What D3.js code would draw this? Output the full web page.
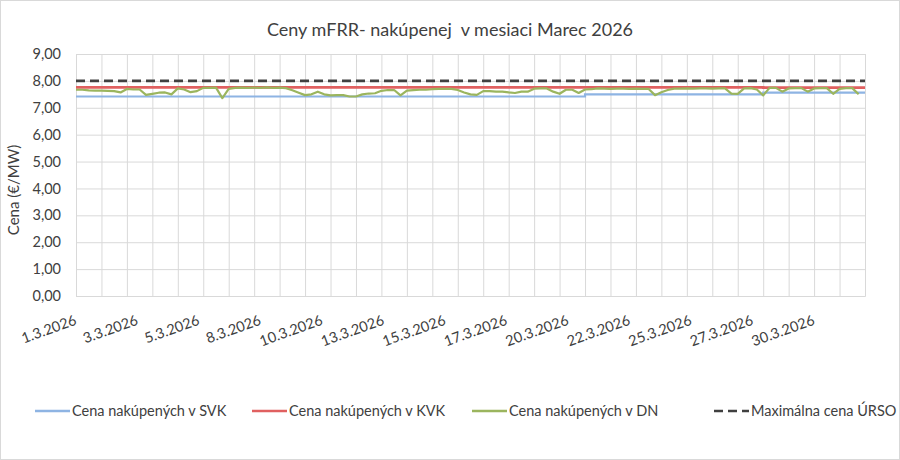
<!DOCTYPE html>
<html>
<head>
<meta charset="utf-8">
<script src="https://cdn.jsdelivr.net/npm/d3@7"></script>
<style>
  body { margin: 0; background: #fff; }
  svg text { font-family: Lato, "Noto Sans", sans-serif; fill: #404040; }
</style>
</head>
<body>
<div id="chart"></div>
<script>
// dátumy / kategórie
const startDate = new Date(2026, 2, 1, 0, 0)
const endDate = new Date(2026, 3, 1, 0, 0)
const dayCount = 31
const labelStepHours = 58
const xTickLabels = ["1.3.2026", "3.3.2026", "5.3.2026", "8.3.2026", "10.3.2026", "13.3.2026", "15.3.2026",
    "17.3.2026", "20.3.2026", "22.3.2026", "25.3.2026", "27.3.2026", "30.3.2026"]
const yTicks = [0, 1, 2, 3, 4, 5, 6, 7, 8, 9]

// denné hodnoty SVK a KVK
const svkDaily = [7.42, 7.42, 7.42, 7.42, 7.42, 7.42, 7.42, 7.42, 7.42, 7.42,
    7.42, 7.42, 7.42, 7.42, 7.42, 7.42, 7.42, 7.42, 7.42, 7.42,
    7.50, 7.50, 7.50, 7.50, 7.50, 7.50, 7.50, 7.56, 7.56, 7.56, 7.56]
const kvkDaily = [7.76, 7.76, 7.76, 7.76, 7.76, 7.76, 7.76, 7.76, 7.76, 7.76,
    7.76, 7.76, 7.76, 7.76, 7.76, 7.76, 7.76, 7.76, 7.76, 7.76,
    7.76, 7.76, 7.76, 7.76, 7.76, 7.76, 7.76, 7.75, 7.75, 7.75, 7.75]
// DN po 6 hodinách
const dnStepHours = 6
const dnValues = [7.67, 7.67, 7.65, 7.64, 7.64, 7.63, 7.62, 7.57, 7.70, 7.68,
    7.68, 7.48, 7.52, 7.56, 7.57, 7.50, 7.72, 7.68, 7.58, 7.62,
    7.74, 7.74, 7.75, 7.36, 7.70, 7.74, 7.75, 7.74, 7.75, 7.74,
    7.76, 7.74, 7.75, 7.73, 7.65, 7.56, 7.47, 7.50, 7.60, 7.50,
    7.46, 7.47, 7.47, 7.42, 7.42, 7.50, 7.53, 7.54, 7.63, 7.66,
    7.66, 7.46, 7.64, 7.66, 7.67, 7.67, 7.69, 7.70, 7.70, 7.70,
    7.66, 7.57, 7.50, 7.48, 7.62, 7.62, 7.60, 7.60, 7.57, 7.55,
    7.60, 7.60, 7.71, 7.72, 7.72, 7.60, 7.52, 7.67, 7.67, 7.55,
    7.68, 7.69, 7.72, 7.71, 7.70, 7.71, 7.71, 7.70, 7.71, 7.70,
    7.70, 7.47, 7.58, 7.66, 7.71, 7.71, 7.72, 7.71, 7.72, 7.72,
    7.71, 7.72, 7.72, 7.53, 7.52, 7.72, 7.73, 7.68, 7.46, 7.74,
    7.74, 7.60, 7.72, 7.73, 7.73, 7.60, 7.72, 7.73, 7.73, 7.52,
    7.70, 7.73, 7.73, 7.50]
const ursoMax = 8.00

const seriesNames = ["Cena nakúpených v SVK", "Cena nakúpených v KVK", "Cena nakúpených v DN", "Maximálna cena ÚRSO"]
const seriesColors = ["#8eb4e3", "#e06060", "#9bb55e", "#404040"]

const width = 900, height = 460
const margin = { left: 76, right: 35, top: 54, bottom: 164 }
const svg = d3.select("#chart").append("svg")
    .attr("width", width)
    .attr("height", height)

svg.append("rect")
    .attr("x", 0.5).attr("y", 0.5)
    .attr("width", width - 1).attr("height", height - 1)
    .attr("fill", "#fff").attr("stroke", "#d9d9d9")

const x = d3.scaleTime()
    .domain([startDate, endDate])
    .range([margin.left, width - margin.right])
const y = d3.scaleLinear()
    .domain([0, 9])
    .range([height - margin.bottom, margin.top])

const sk = d3.formatLocale({ decimal: ",", thousands: " ", grouping: [3], currency: ["", " €"] })
const fmt = sk.format(".2f")

// horizontálne mriežky
svg.append("g")
    .attr("transform", `translate(${margin.left},0)`)
    .call(d3.axisLeft(y).tickValues(yTicks).tickSize(-(width - margin.left - margin.right)).tickFormat(""))
    .call(g => g.select(".domain").remove())
    .call(g => g.selectAll("line").attr("stroke", "#d9d9d9"))

// vertikálne mriežky - každý deň
const days = d3.range(dayCount).map(i => d3.timeDay.offset(startDate, i))
svg.append("g")
    .attr("transform", `translate(0,${height - margin.bottom})`)
    .call(d3.axisBottom(x).tickValues(days).tickSize(-(height - margin.top - margin.bottom)).tickFormat(""))
    .call(g => g.select(".domain").attr("stroke", "#d9d9d9"))
    .call(g => g.selectAll("line").attr("stroke", "#d9d9d9"))

// popisy osi y
svg.append("g")
    .attr("transform", `translate(${margin.left - 12},0)`)
    .call(d3.axisLeft(y).tickValues(yTicks).tickSize(0).tickFormat(fmt))
    .call(g => g.select(".domain").remove())
    .call(g => g.selectAll("text").attr("font-size", 14.5).attr("font-family", "Lato").attr("fill", "#404040"))

// popisy osi x
const labelDates = xTickLabels.map((t, k) => d3.timeHour.offset(startDate, k * labelStepHours))
const xLab = svg.append("g")
    .attr("transform", `translate(0,${height - margin.bottom})`)
    .call(d3.axisBottom(x).tickValues(labelDates).tickSize(0).tickFormat((d, i) => xTickLabels[i]))
xLab.select(".domain").remove()
xLab.selectAll("text")
    .attr("font-size", 14.5)
    .attr("font-family", "Lato")
    .attr("fill", "#404040")
    .attr("text-anchor", "end")
    .attr("dy", null)
    .attr("y", 0)
    .attr("transform", "translate(1,28) rotate(-20)")

// dáta
const svkData = svkDaily.map((v, i) => ({ t: d3.timeDay.offset(startDate, i), v }))
svkData.push({ t: endDate, v: svkDaily[svkDaily.length - 1] })
const kvkData = kvkDaily.map((v, i) => ({ t: d3.timeDay.offset(startDate, i), v }))
kvkData.push({ t: endDate, v: kvkDaily[kvkDaily.length - 1] })
const dnData = dnValues.map((v, i) => ({ t: d3.timeHour.offset(startDate, i * dnStepHours), v }))

const stepLine = d3.line().x(d => x(d.t)).y(d => y(d.v)).curve(d3.curveStepAfter)
const line = d3.line().x(d => x(d.t)).y(d => y(d.v))

svg.append("path").datum(svkData)
    .attr("fill", "none").attr("stroke", seriesColors[0]).attr("stroke-width", 2.2)
    .attr("d", stepLine)
svg.append("path").datum(kvkData)
    .attr("fill", "none").attr("stroke", seriesColors[1]).attr("stroke-width", 2.6)
    .attr("d", stepLine)
svg.append("path").datum(dnData)
    .attr("fill", "none").attr("stroke", seriesColors[2]).attr("stroke-width", 2.2)
    .attr("stroke-linejoin", "round")
    .attr("d", line)
svg.append("path").datum([{ t: startDate, v: ursoMax }, { t: endDate, v: ursoMax }])
    .attr("fill", "none").attr("stroke", seriesColors[3]).attr("stroke-width", 2.6)
    .attr("stroke-dasharray", "9 5")
    .attr("d", line)

// titulok
svg.append("text")
    .attr("x", 450).attr("y", 36)
    .attr("text-anchor", "middle")
    .attr("font-size", 18)
    .text("Ceny mFRR- nakúpenej\u00a0 v mesiaci Marec 2026")

// názov osi y
svg.append("text")
    .attr("transform", `translate(19,190) rotate(-90)`)
    .attr("text-anchor", "middle")
    .attr("font-size", 15)
    .text("Cena (€/MW)")

// legenda
const legendX = [35, 252, 472, 714]
const legend = svg.append("g")
seriesNames.forEach((name, i) => {
    const g = legend.append("g").attr("transform", `translate(${legendX[i]},411)`)
    g.append("line")
        .attr("x1", 0).attr("x2", 35).attr("y1", 0).attr("y2", 0)
        .attr("stroke", seriesColors[i])
        .attr("stroke-width", i == 3 ? 2.6 : 2.4)
        .attr("stroke-dasharray", i == 3 ? "9 5" : null)
    g.append("text")
        .attr("x", 37).attr("y", 5)
        .attr("font-size", 14.5)
        .text(name)
})
</script>
</body>
</html>
